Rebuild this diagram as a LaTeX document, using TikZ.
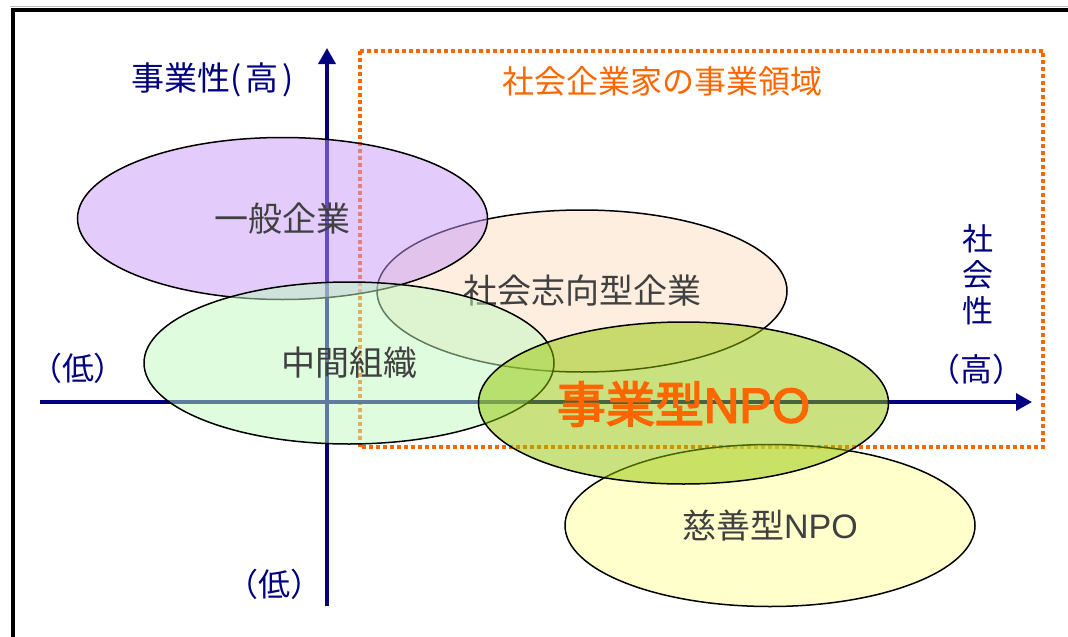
\documentclass[tikz,border=0pt]{standalone}
\usepackage{fontspec}
\setmainfont{Noto Sans CJK JP}
\newfontfamily\latin{Liberation Sans}
\newfontfamily\heavyjp[FakeBold=3]{Noto Sans CJK JP}
\newfontfamily\heavylatin[FakeBold=3]{Liberation Sans}
\usetikzlibrary{shapes.geometric,arrows.meta}
\definecolor{navyc}{RGB}{0,0,128}
\definecolor{orangec}{RGB}{255,102,0}
\definecolor{labelc}{RGB}{64,64,64}
\definecolor{purplec}{RGB}{199,153,247}
\definecolor{peachc}{RGB}{253,221,191}
\definecolor{greenc}{RGB}{191,249,191}
\definecolor{olivec}{RGB}{147,197,0}
\definecolor{yellowc}{RGB}{255,255,153}
\tikzset{
  blob/.style={ellipse, draw=black, line width=1.5pt, fill opacity=0.5, text opacity=1,
    minimum width=410pt, minimum height=162pt, inner sep=0pt, outer sep=0pt,
    text=labelc, font=\fontsize{34}{40}\selectfont},
  axisline/.style={draw=navyc, line width=3.5pt, -{Triangle[length=16pt,width=17pt]}},
  axislabel/.style={text=navyc, font=\fontsize{32}{36}\selectfont, inner sep=0pt},
  regionbox/.style={draw=orangec, line width=4pt, dash pattern=on 4pt off 3pt},
}
\begin{document}
\begin{tikzpicture}[x=1pt,y=-1pt]
\useasboundingbox (0,0) rectangle (1068,637);
% frame
\draw[black!25, line width=1pt] (10,6.5) -- (1068,6.5);
\draw[black, line width=4pt] (12.5,637) -- (12.5,10) -- (1068,10);
% domain of social entrepreneurs
\coordinate (d1) at (359.5,50.5);
\coordinate (d2) at (1043,447);
\draw[regionbox] (d1) rectangle (d2);
\node[text=orangec, font=\fontsize{32}{36}\selectfont, inner sep=0pt] (title) at (662,81) {社会企業家の事業領域};
% axes
\coordinate (xs) at (40,402);
\coordinate (xe) at (1032,402);
\coordinate (ys) at (327,606);
\coordinate (ye) at (327,48);
\draw[axisline] (xs) -- (xe);
\draw[axisline] (ys) -- (ye);
% ellipses
\node[blob, fill=yellowc] (jizen) at (770,525.5) {慈善型{\latin NPO}};
\node[blob, fill=peachc] (shakai) at (582,291) {社会志向型企業};
\node[blob, fill=purplec] (ippan) at (282.5,218.5) {一般企業};
\node[blob, fill=greenc] (chukan) at (349,363) {中間組織};
\node[blob, fill=olivec] (jigyo) at (683.5,403) {};
\node[text=orangec, font=\fontsize{49}{52}\selectfont\heavyjp, inner sep=0pt] (jigyolabel) at (683.5,404) {事業型{\heavylatin NPO}};
% axis labels
\node[axislabel, font=\fontsize{33}{36}\selectfont] (yhigh) at (213,80) {事業性(\kern4pt 高\kern4pt)};
\node[axislabel] (ylow) at (274,584) {（低）};
\node[axislabel] (xlow) at (78,368) {（低）};
\node[axislabel] (xhigh) at (976,369) {（高）};
\node[axislabel, align=center, font=\fontsize{31}{36}\selectfont] (xname) at (978,275) {社\\会\\性};
\end{tikzpicture}
\end{document}
